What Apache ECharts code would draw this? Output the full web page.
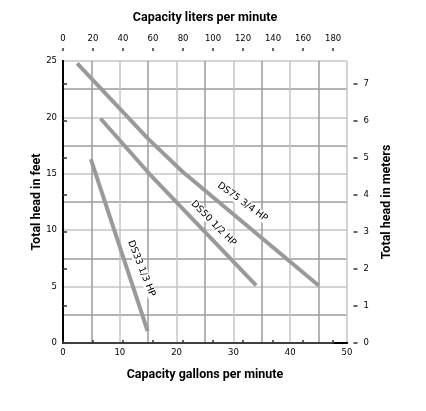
<!DOCTYPE html>
<html>
<head>
<meta charset="utf-8">
<script src="https://cdn.jsdelivr.net/npm/echarts@6/dist/echarts.min.js"></script>
<style>
  html, body { margin: 0; padding: 0; background: #fff; }
  #chart { width: 426px; height: 411px; }
</style>
</head>
<body>
<div id="chart"></div>
<script>
// pump curves, [gallons per minute, feet of head]
const ds75 = [[2.5, 24.8], [15, 18.1], [21, 15.2], [45, 5.1]];
const ds50 = [[6.6, 19.9], [15.2, 15.0], [34, 5.1]];
const ds33 = [[4.9, 16.3], [14.9, 1.05]];

// curve captions, anchored in data coordinates
const curveNames = ["DS75 3/4 HP", "DS50 1/2 HP", "DS33 1/3 HP"];
const captionAt = [[31.6, 12.5], [26.5, 10.6], [13.8, 6.6]];
const captionAngle = [-36, -45, -68];

const GPM_MAX = 50;
const FEET_MAX = 25;
const LPM_PER_GPM = 3.7854;
const M_PER_FT = 0.3048;
const LPM_TICK_MAX = 180;
const M_TICK_MAX = 7;

const tickFont = { fontFamily: "DejaVu Sans", fontSize: 8.5, color: "#000" };
const titleFont = {
  fontFamily: "Roboto",
  fontSize: 12.5,
  fontWeight: "bold",
  color: "#000",
};

const chart = echarts.init(document.getElementById("chart"));

// main plot box
const plot = { left: 63, right: 79, top: 61, bottom: 68 };
const plotW = 426 - plot.left - plot.right;
const plotH = 411 - plot.top - plot.bottom;

const majorLine = { show: true, lineStyle: { color: "#c6c6c6", width: 1.5 } };
const minorLine = { show: true, lineStyle: { color: "#9c9c9c", width: 1.5 } };
const blackLine = { show: true, lineStyle: { color: "#000", width: 2 } };

// axis title helper, kept where it is put (no auto shifting)
const axisTitle = (text, gap, rotate) => ({
  name: text,
  nameLocation: "middle",
  nameGap: gap,
  nameRotate: rotate,
  nameMoveOverlap: false,
  nameTextStyle: titleFont,
});

const curveSeries = [ds75, ds50, ds33].map((data, i) => ({
  name: curveNames[i],
  type: "line",
  data: data,
  symbol: "none",
  lineStyle: { color: "#9a9a9a", width: 4 },
  z: 3,
  markPoint: {
    symbol: "rect",
    symbolSize: 0,
    data: [{ coord: captionAt[i], value: curveNames[i] }],
    label: {
      show: true,
      position: "inside",
      formatter: curveNames[i],
      rotate: captionAngle[i],
      color: "#000",
      fontFamily: "DejaVu Sans",
      fontSize: 9.5,
      backgroundColor: "#fff",
      padding: [0, 1],
    },
  },
}));

const option = {
  animation: false,
  grid: [
    { left: plot.left, right: plot.right, top: plot.top, bottom: plot.bottom },
    // liters axis only spans 0..180
    {
      left: plot.left,
      width: (plotW * LPM_TICK_MAX) / (GPM_MAX * LPM_PER_GPM),
      top: plot.top,
      height: plotH,
    },
    // meters axis only spans 0..7
    {
      left: plot.left,
      width: plotW,
      bottom: plot.bottom,
      height: (plotH * M_TICK_MAX) / (FEET_MAX * M_PER_FT),
    },
  ],
  xAxis: [
    {
      gridIndex: 0,
      type: "value",
      position: "bottom",
      min: 0,
      max: GPM_MAX,
      interval: 10,
      axisLine: blackLine,
      axisTick: { show: false },
      minorTick: { show: false, splitNumber: 2 },
      axisLabel: { ...tickFont, margin: 5 },
      splitLine: majorLine,
      minorSplitLine: minorLine,
      ...axisTitle("Capacity gallons per minute", 25),
    },
    {
      gridIndex: 0,
      type: "value",
      position: "top",
      min: 0,
      max: GPM_MAX,
      axisLine: blackLine,
      axisTick: { show: false },
      axisLabel: { show: false },
      splitLine: { show: false },
      ...axisTitle("Capacity liters per minute", 37),
    },
    {
      gridIndex: 1,
      type: "value",
      position: "top",
      offset: 13,
      min: 0,
      max: LPM_TICK_MAX,
      interval: 20,
      axisLine: { show: true, lineStyle: { color: "#555", width: 1.5 } },
      axisTick: { show: true, length: 3, lineStyle: { color: "#333", width: 1.5 } },
      axisLabel: { ...tickFont, margin: 5 },
      splitLine: { show: false },
    },
    {
      gridIndex: 1,
      type: "value",
      position: "top",
      offset: 13,
      min: 0,
      max: LPM_TICK_MAX,
      interval: 20,
      axisLine: { show: false },
      axisTick: { show: true, inside: true, length: 3, lineStyle: { color: "#333", width: 1.5 } },
      axisLabel: { show: false },
      splitLine: { show: false },
    },
    { gridIndex: 2, type: "value", show: false, min: 0, max: 1 },
  ],
  yAxis: [
    {
      gridIndex: 0,
      type: "value",
      position: "left",
      min: 0,
      max: FEET_MAX,
      interval: 5,
      axisLine: blackLine,
      axisTick: { show: false },
      minorTick: { show: false, splitNumber: 2 },
      axisLabel: { ...tickFont, margin: 6 },
      splitLine: majorLine,
      minorSplitLine: minorLine,
      ...axisTitle("Total head in feet", 20, 90),
    },
    {
      gridIndex: 0,
      type: "value",
      position: "right",
      min: 0,
      max: FEET_MAX,
      axisLine: blackLine,
      axisTick: { show: false },
      axisLabel: { show: false },
      splitLine: { show: false },
      ...axisTitle("Total head in meters", 33, 90),
    },
    { gridIndex: 1, type: "value", show: false, min: 0, max: 1 },
    {
      gridIndex: 2,
      type: "value",
      position: "right",
      offset: 10.5,
      min: 0,
      max: M_TICK_MAX,
      interval: 1,
      axisLine: { show: true, lineStyle: { color: "#000", width: 1.5 } },
      axisTick: { show: true, length: 4, lineStyle: { color: "#333", width: 1.5 } },
      axisLabel: { ...tickFont, margin: 6 },
      splitLine: { show: false },
    },
    {
      gridIndex: 2,
      type: "value",
      position: "right",
      offset: 10.5,
      min: 0,
      max: M_TICK_MAX,
      interval: 1,
      axisLine: { show: false },
      axisTick: { show: true, inside: true, length: 4, lineStyle: { color: "#333", width: 1.5 } },
      axisLabel: { show: false },
      splitLine: { show: false },
    },
  ],
  series: curveSeries,
};

chart.setOption(option);
</script>
</body>
</html>
